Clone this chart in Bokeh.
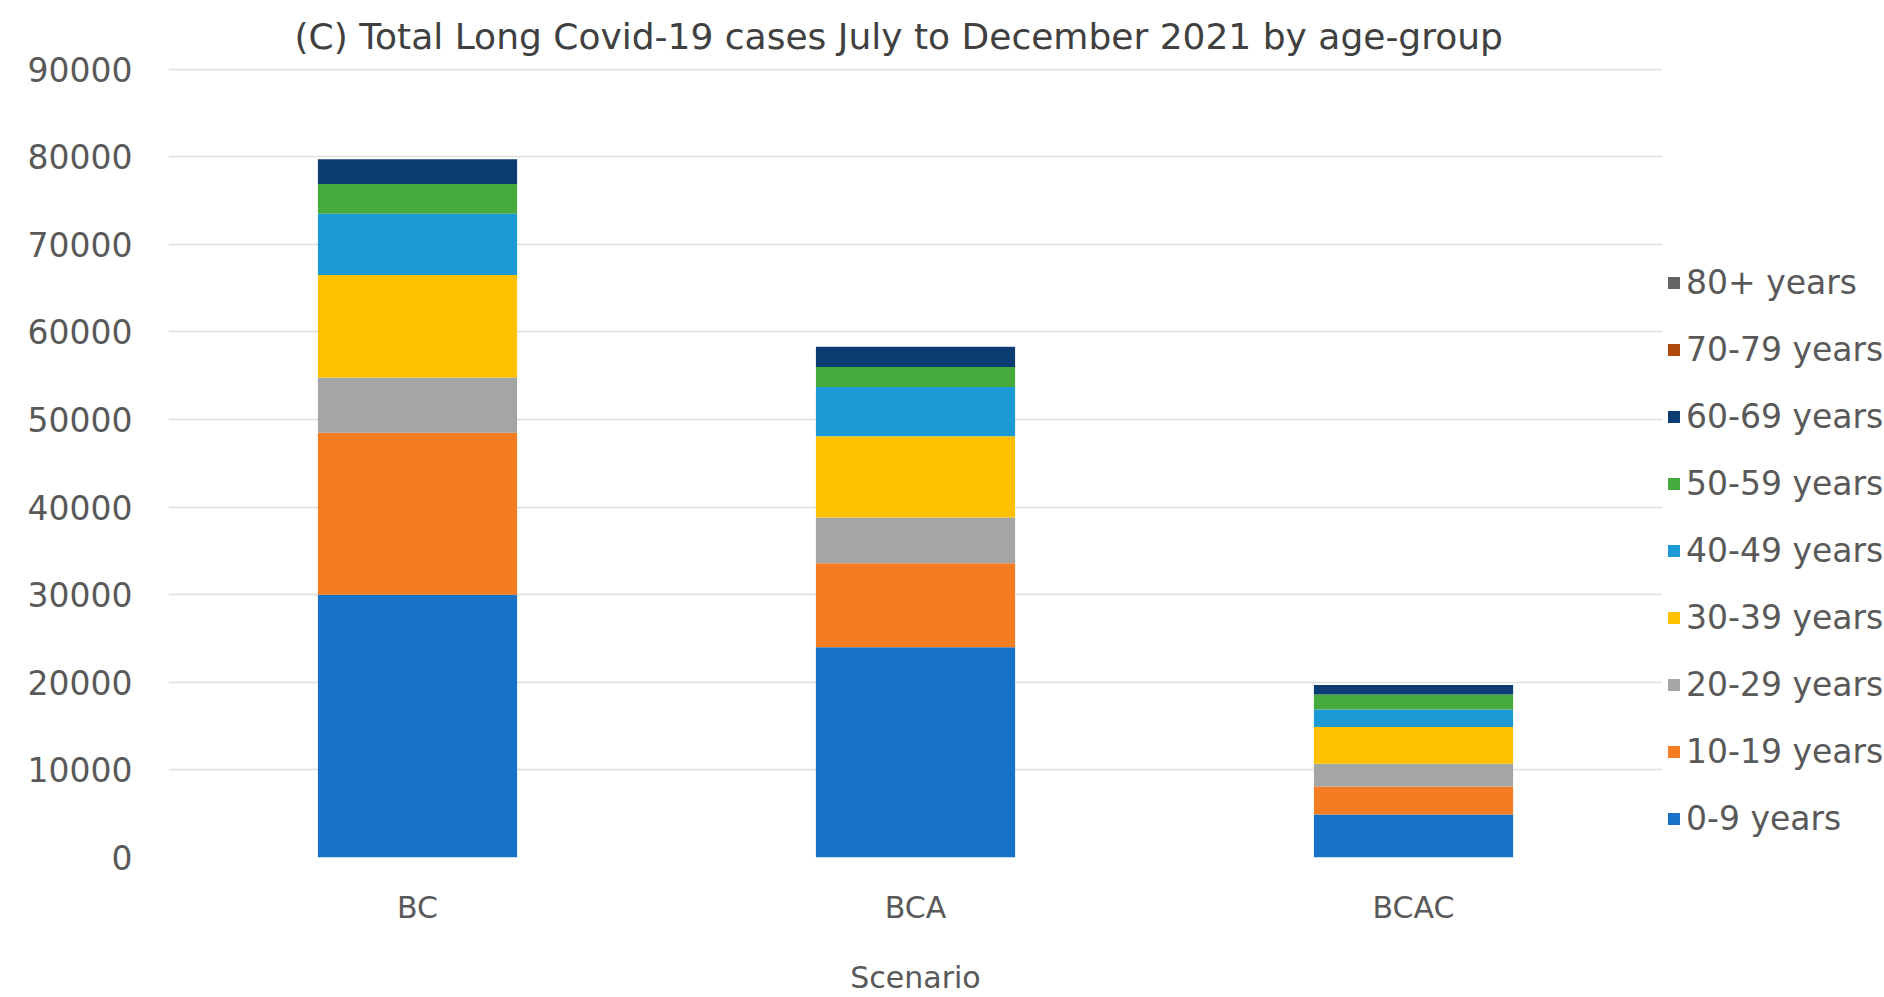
from bokeh.plotting import figure
from bokeh.models import ColumnDataSource, Range1d, Legend, LegendItem, FixedTicker
from bokeh.layouts import row
from bokeh.embed import file_html
from bokeh.resources import INLINE

scenarios = ["BC", "BCA", "BCAC"]
age_groups = ["0-9 years", "10-19 years", "20-29 years", "30-39 years", "40-49 years",
              "50-59 years", "60-69 years", "70-79 years", "80+ years"]
v_0_9 = [30000, 24000, 4900]
v_10_19 = [18500, 9600, 3200]
v_20_29 = [6300, 5200, 2600]
v_30_39 = [11700, 9300, 4200]
v_40_49 = [7000, 5600, 2000]
v_50_59 = [3400, 2300, 1700]
v_60_69 = [2800, 2300, 1100]
v_70_79 = [0, 0, 0]
v_80_plus = [0, 0, 0]
y_ticks = [0, 10000, 20000, 30000, 40000, 50000, 60000, 70000, 80000, 90000]

colors = ["#1872C8", "#F47D24", "#A5A5A5", "#FFC000", "#1B9AD6",
          "#46AA3C", "#0B3C72", "#B04A10", "#636363"]

series = [v_0_9, v_10_19, v_20_29, v_30_39, v_40_49, v_50_59, v_60_69, v_70_79, v_80_plus]
data = {"scenario": scenarios}
for g, s in zip(age_groups, series):
    data[g] = s
source = ColumnDataSource(data)

FONT = "DejaVu Sans"
TXT = "#595959"

# main chart
p = figure(x_range=scenarios, y_range=Range1d(0, 90300), width=1662, height=997,
           output_backend="svg", toolbar_location=None,
           min_border_left=168, min_border_right=0, min_border_top=66, min_border_bottom=139)

renderers = p.vbar_stack(age_groups, x="scenario", width=0.4, color=colors,
                         line_color=None, source=source)

p.title.text = "(C) Total Long Covid-19 cases July to December 2021 by age-group"
p.title.align = "left"
p.title.offset = 126
p.title.text_font = FONT
p.title.text_font_size = "36px"
p.title.text_font_style = "normal"
p.title.text_color = "#404040"
p.title.standoff = 20

p.outline_line_color = None
p.xgrid.grid_line_color = None
p.ygrid.grid_line_color = "#DDDDDD"
p.ygrid.grid_line_width = 1.5
p.x_range.range_padding = 0

p.yaxis.ticker = FixedTicker(ticks=y_ticks)
p.yaxis.axis_line_color = None
p.yaxis.major_tick_line_color = None
p.yaxis.minor_tick_line_color = None
p.yaxis.major_tick_out = 0
p.yaxis.major_label_standoff = 36
p.yaxis.major_label_text_font = FONT
p.yaxis.major_label_text_font_size = "33px"
p.yaxis.major_label_text_color = TXT

p.xaxis.axis_line_color = None
p.xaxis.major_tick_line_color = None
p.xaxis.major_tick_out = 0
p.xaxis.major_label_standoff = 32
p.xaxis.major_label_text_font = FONT
p.xaxis.major_label_text_font_size = "30px"
p.xaxis.major_label_text_color = TXT
p.xaxis.axis_label = "Scenario"
p.xaxis.axis_label_standoff = 32
p.xaxis.axis_label_text_font = FONT
p.xaxis.axis_label_text_font_size = "30px"
p.xaxis.axis_label_text_font_style = "normal"
p.xaxis.axis_label_text_color = TXT

# legend panel (separate figure to the right of the chart)
q = figure(width=222, height=997, x_range=Range1d(0, 1), y_range=Range1d(0, 1),
           output_backend="svg", toolbar_location=None,
           min_border_left=0, min_border_right=0, min_border_top=0, min_border_bottom=0)
q.axis.visible = False
q.grid.grid_line_color = None
q.outline_line_color = None

items = []
for g, c in zip(age_groups, colors):
    # placeholder glyph outside the visible range, used only for the legend swatch
    r = q.vbar(x=[-5], top=[0], width=0.1, fill_color=c, line_color=None)
    items.append(LegendItem(label=g, renderers=[r]))
items = items[::-1]
legend = Legend(items=items, location=(4, 19), orientation="vertical",
                glyph_width=15, glyph_height=15, label_height=36, spacing=28,
                label_standoff=5, padding=0, margin=0,
                border_line_color=None, background_fill_alpha=0,
                label_text_font=FONT, label_text_font_size="33px", label_text_color=TXT)
q.add_layout(legend, "center")

layout = row(p, q)
open("out.html", "w").write(file_html(layout, INLINE))
